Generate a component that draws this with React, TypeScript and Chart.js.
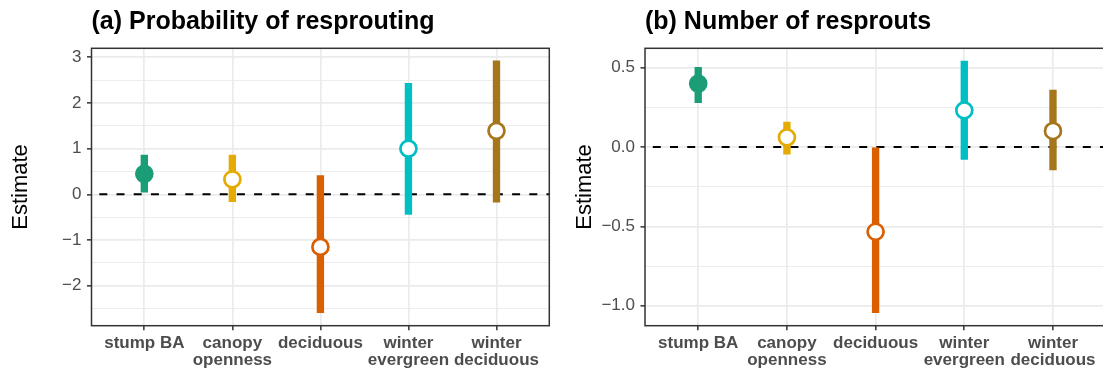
import React, { useEffect, useRef } from 'react';
import { Chart, registerables } from 'chart.js';

Chart.register(...registerables);

const FONT = "'Liberation Sans', Arial, Helvetica, sans-serif";

// ---- data ----
const categories = ['stump BA', 'canopy\nopenness', 'deciduous', 'winter\nevergreen', 'winter\ndeciduous'];
const colors = ['#1b9e77', '#e6ab02', '#d95f02', '#00bfc4', '#a6761d'];
const filled = [true, false, false, false, false];

// (a) Probability of resprouting
const estA = [0.45, 0.33, -1.15, 1.0, 1.39];
const lowA = [0.05, -0.16, -2.59, -0.44, -0.17];
const highA = [0.86, 0.86, 0.41, 2.43, 2.92];
const majorTicksA = [-2, -1, 0, 1, 2, 3];
const minorTicksA = [-2.5, -1.5, -0.5, 0.5, 1.5, 2.5];
const rangeA = [-2.875, 3.197];

// (b) Number of resprouts
const estB = [0.4, 0.061, -0.534, 0.231, 0.101];
const lowB = [0.279, -0.045, -1.044, -0.078, -0.145];
const highB = [0.502, 0.157, 0.0, 0.542, 0.359];
const majorTicksB = [-1.0, -0.5, 0.0, 0.5];
const minorTicksB = [-0.75, -0.25, 0.25];
const rangeB = [-1.126, 0.622];

const fmt = (v: number, dec: number) => (v < 0 ? '\u2212' : '') + Math.abs(v).toFixed(dec);

const decor = {
  id: 'decor',
  beforeDatasetsDraw(chart: any) {
    const { ctx, chartArea: a, scales } = chart;
    const py = scales.y.getPixelForValue(0);
    ctx.save();
    ctx.beginPath();
    ctx.setLineDash([8, 9.2]);
    ctx.lineDashOffset = 9.4;
    ctx.strokeStyle = '#000000';
    ctx.lineWidth = 2;
    ctx.moveTo(a.left, py);
    ctx.lineTo(a.right, py);
    ctx.stroke();
    ctx.restore();
  },
  afterDraw(chart: any, _args: any, opts: any) {
    const { ctx, chartArea: a } = chart;
    ctx.save();
    ctx.strokeStyle = '#333333';
    ctx.lineWidth = 1.5;
    ctx.strokeRect(a.left, a.top, a.right - a.left, a.bottom - a.top);
    ctx.fillStyle = '#000000';
    ctx.font = `bold 25px ${FONT}`;
    ctx.textAlign = 'left';
    ctx.textBaseline = 'alphabetic';
    ctx.fillText(opts.title, a.left, 29);
    ctx.translate(opts.yTitleX, (a.top + a.bottom) / 2);
    ctx.rotate(-Math.PI / 2);
    ctx.font = `22px ${FONT}`;
    ctx.textAlign = 'center';
    ctx.fillText('Estimate', 0, 0);
    ctx.restore();
  },
};

function makeChart(
  canvas: HTMLCanvasElement,
  est: number[],
  low: number[],
  high: number[],
  major: number[],
  minor: number[],
  range: number[],
  dec: number,
  title: string,
  yAxisWidth: number,
  padRight: number,
  yTitleX: number
) {
  const isMajor = (v: number) => major.some((m) => Math.abs(m - v) < 1e-9);
  const allTicks = [...major, ...minor].sort((p, q) => p - q);
  return new Chart(canvas, {
    type: 'bar',
    data: {
      datasets: [
        {
          type: 'scatter',
          data: est.map((y, i) => ({ x: i + 1, y })),
          pointRadius: 8,
          pointHoverRadius: 8,
          pointBorderWidth: 2.7,
          pointBackgroundColor: colors.map((c, i) => (filled[i] ? c : '#ffffff')),
          pointBorderColor: colors,
          showLine: false,
          order: 0,
        } as any,
        {
          type: 'bar',
          data: low.map((l, i) => ({ x: i + 1, y: [l, high[i]] })),
          backgroundColor: colors,
          borderWidth: 0,
          barThickness: 6.7,
          order: 1,
        } as any,
      ],
    },
    options: {
      animation: false,
      responsive: false,
      devicePixelRatio: 1,
      events: [],
      layout: { padding: { top: 48.3, right: padRight, left: 0, bottom: 0 } },
      plugins: {
        legend: { display: false },
        tooltip: { enabled: false },
        title: { display: false },
        decor: { title, yTitleX },
      } as any,
      scales: {
        x: {
          type: 'linear',
          min: 0.4,
          max: 5.6,
          offset: false,
          afterBuildTicks: (s: any) => {
            s.ticks = categories.map((_, i) => ({ value: i + 1 }));
          },
          afterFit: (s: any) => {
            s.height = 45.3;
          },
          ticks: {
            autoSkip: false,
            maxRotation: 0,
            minRotation: 0,
            padding: 4,
            color: '#4d4d4d',
            font: { family: FONT, size: 17, weight: 'bold', lineHeight: 1.024 },
            callback: (_v: any, i: number) => categories[i].split('\n'),
          },
          grid: {
            offset: false,
            color: '#ebebeb',
            lineWidth: 1.7,
            tickLength: 4.5,
            tickColor: '#333333',
            tickWidth: 1.5,
          },
          border: { display: false },
        },
        y: {
          type: 'linear',
          min: range[0],
          max: range[1],
          afterBuildTicks: (s: any) => {
            s.ticks = allTicks.map((v) => ({ value: v }));
          },
          afterFit: (s: any) => {
            s.width = yAxisWidth;
          },
          ticks: {
            autoSkip: false,
            padding: 5.5,
            color: '#4d4d4d',
            font: { family: FONT, size: 17 },
            callback: (v: any) => (isMajor(Number(v)) ? fmt(Number(v), dec) : ''),
          },
          grid: {
            color: '#ebebeb',
            lineWidth: (ctx: any) => (ctx.tick && isMajor(ctx.tick.value) ? 1.7 : 0.9),
            tickLength: 4.5,
            tickColor: (ctx: any) => (ctx.tick && isMajor(ctx.tick.value) ? '#333333' : 'rgba(0,0,0,0)'),
            tickWidth: 1.5,
          },
          border: { display: false },
        },
      },
    } as any,
    plugins: [decor as any],
  });
}

export default function App() {
  const refA = useRef<HTMLCanvasElement>(null);
  const refB = useRef<HTMLCanvasElement>(null);

  useEffect(() => {
    const a = makeChart(refA.current!, estA, lowA, highA, majorTicksA, minorTicksA, rangeA, 0,
      '(a) Probability of resprouting', 91.5, 8, 26.5);
    const b = makeChart(refB.current!, estB, lowB, highB, majorTicksB, minorTicksB, rangeB, 1,
      '(b) Number of resprouts', 85, 13.8, 31);
    return () => {
      a.destroy();
      b.destroy();
    };
  }, []);

  return (
    <div style={{ position: 'absolute', left: 0, top: 0, width: 1103, height: 371, overflow: 'hidden', background: '#ffffff' }}>
      <canvas ref={refA} width={560} height={371} style={{ position: 'absolute', left: 0, top: 0, width: 560, height: 371 }} />
      <div style={{ position: 'absolute', left: 560, top: 0, width: 543, height: 371, overflow: 'hidden' }}>
        <canvas ref={refB} width={560} height={371} style={{ position: 'absolute', left: 0, top: 0, width: 560, height: 371 }} />
      </div>
    </div>
  );
}
